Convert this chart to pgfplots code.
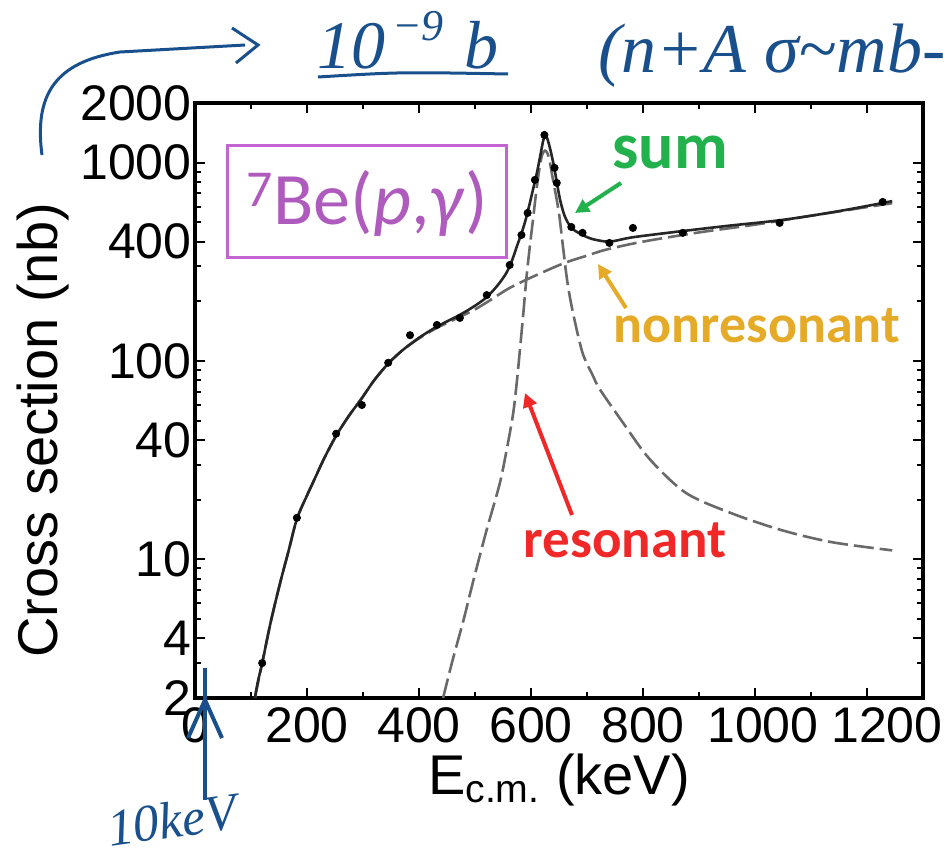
\documentclass[border=0pt]{standalone}
\usepackage{pgfplots}
\pgfplotsset{compat=1.18}
\usepackage{fontspec}
\setmainfont{Liberation Sans}
\newfontfamily\carlito{Carlito}
\newfontfamily\hand{Liberation Serif}
\usetikzlibrary{arrows.meta}
\definecolor{sumgreen}{RGB}{34,177,76}
\definecolor{nongold}{RGB}{228,170,40}
\definecolor{resred}{RGB}{240,40,40}
\definecolor{boxmag}{RGB}{195,100,210}
\definecolor{handblue}{RGB}{25,80,140}
\definecolor{dashgray}{RGB}{105,105,105}
\begin{document}
\begin{tikzpicture}
\useasboundingbox (-97.5pt,-80.5pt) rectangle (377.5pt,349pt);
\begin{axis}[
  at={(0pt,0pt)}, anchor=south west,
  scale only axis, width=364pt, height=297.5pt,
  xmin=0, xmax=1300, ymode=log, ymin=2, ymax=2000,
  xtick={0,200,400,600,800,1000,1200},
  xticklabels={0,200,400,600,800,\hspace{8pt}1000,\hspace{20pt}1200},
  minor xtick={100,300,500,700,900,1100,1300},
  ytick={2,4,10,40,100,400,1000,2000},
  yticklabels={2,4,10,40,100,400,1000,2000},
  minor ytick={3,5,6,7,8,9,20,30,50,60,70,80,90,200,300,500,600,700,800,900},
  tick align=inside,
  major tick length=5pt, minor tick length=3pt,
  tick style={black, line width=1pt},
  axis line style={line width=2pt},
  ticklabel style={font=\fontsize{25}{25}\selectfont, inner sep=1.5pt},
  xticklabel style={yshift=-3pt},
  xlabel={E\textsubscript{c.m.} (keV)},
  ylabel={Cross section (nb)},
  label style={font=\fontsize{28}{28}\selectfont},
  xlabel style={at={(axis description cs:0.5,-0.094)}, anchor=north, inner sep=0pt},
  ylabel style={at={(axis description cs:-0.2088,0.45)}, anchor=center, inner sep=0pt},
  clip=true,
]
% nonresonant
\addplot[dashgray, line width=1.3pt, dash pattern=on 10pt off 3pt, smooth] coordinates {
(107,2) (120,3.0) (135,4.8) (152,7.6) (167,11) (182,16) (200,21) (211,24.5) (230,32)
(252,42) (275,53) (298,65) (320,80) (345,97) (370,113) (400,130) (432,147) (473,167)
(500,182) (530,205) (560,232) (598,262) (657,310) (700,340) (735,365) (800,400)
(900,445) (1000,487) (1100,540) (1245,625)};
% resonant
\addplot[dashgray, line width=1.3pt, dash pattern=on 10pt off 3pt, smooth] coordinates {
(443,2) (460,3.1) (480,5.0) (497,7.8) (520,13.8) (544,24) (556,35) (568,54) (575,80)
(580,112) (586,170) (592,265) (598,380) (603,500) (609,700) (615,930) (620,1100)
(625,1150) (629,1120) (633,1030) (640,800) (646,650) (651,530) (657,380) (665,250)
(675,175) (692,110) (710,85) (723,72) (764,49) (812,32) (877,21.6) (960,17)
(1049,14) (1138,12.2) (1245,11.1)};
% sum
\addplot[black!85, line width=1.3pt, smooth] coordinates {
(107,2) (112,2.4) (120,3.0) (135,4.8) (152,7.6) (167,11) (182,16) (200,21) (211,24.5)
(230,32) (252,42) (275,53) (298,65) (320,80) (345,97) (370,113) (400,131) (432,149)
(473,171) (500,190) (521,210) (540,240) (555,275) (565,315) (575,380) (583,440)
(590,510) (597,610) (604,740) (611,900) (617,1100) (622,1300) (626,1380) (630,1300)
(635,1150) (641,960) (646,800) (652,650) (660,540) (672,470) (690,435) (710,412)
(740,400) (780,420) (850,445) (950,480) (1050,515) (1150,570) (1245,640)};
% data
\addplot[only marks, mark=*, mark size=1.8pt, black] coordinates {
(120,3.0) (182,16.2) (252,43) (298,60) (345,98) (384,135) (432,152) (473,165)
(521,215) (562,305) (583,432) (594,558) (607,819) (624,1380) (642,942) (646,791)
(672,474) (692,443) (740,394) (782,469) (871,443) (1044,497) (1228,634)};
\end{axis}
\begin{scope}[shift={(-97.5pt,349pt)}, x=0.5pt, y=-0.5pt]
  % magenta box
  \draw[boxmag, line width=1.5pt] (228,145) rectangle (507,257);
  \node[boxmag!90!black] at (367,203) {\carlito\fontsize{37}{37}\selectfont\textsuperscript{7}Be(\textit{p},\textit{γ})};
  % labels
  \node[sumgreen] at (670,152) {\carlito\bfseries\fontsize{33}{33}\selectfont sum};
  \draw[sumgreen, line width=2pt, -{Triangle[length=7pt,width=7pt]}] (621,183) -- (575,213);
  \node[nongold] at (757,326) {\carlito\bfseries\fontsize{27}{27}\selectfont nonresonant};
  \draw[nongold, line width=2pt, -{Triangle[length=7pt,width=7pt]}] (626,308) -- (598,264);
  \node[resred] at (625,540) {\carlito\bfseries\fontsize{27.5}{27.5}\selectfont resonant};
  \draw[resred, line width=2pt, -{Triangle[length=7pt,width=7pt]}] (572,515) -- (525,393);
  % handwriting
  \draw[handblue, line width=1.5pt] (42,155) .. controls (34,95) and (55,62) .. (120,52) -- (245,45);
  \draw[handblue, line width=1.5pt] (232,28) -- (258,45) -- (236,63);
  \node[handblue, anchor=base] at (352,68) {\hand\itshape\fontsize{34}{34}\selectfont 10};
  \node[handblue, anchor=base] at (418,40) {\hand\itshape\fontsize{22}{22}\selectfont −9};
  \node[handblue, anchor=base] at (482,68) {\hand\itshape\fontsize{34}{34}\selectfont b};
  \draw[handblue, line width=1.5pt] (318,77) .. controls (400,72) .. (508,74);
  \node[handblue, anchor=base west, inner sep=0pt] at (598,72) {\hand\itshape\fontsize{35}{35}\selectfont (n+A σ\textasciitilde mb-};
  \draw[handblue, line width=2pt] (205,800) -- (205,668);
  \draw[handblue, line width=2pt] (188,738) -- (205,700) -- (222,738);
  \node[handblue, rotate=8] at (172,820) {\hand\itshape\fontsize{26}{26}\selectfont 10keV};
\end{scope}
\end{tikzpicture}
\end{document}
